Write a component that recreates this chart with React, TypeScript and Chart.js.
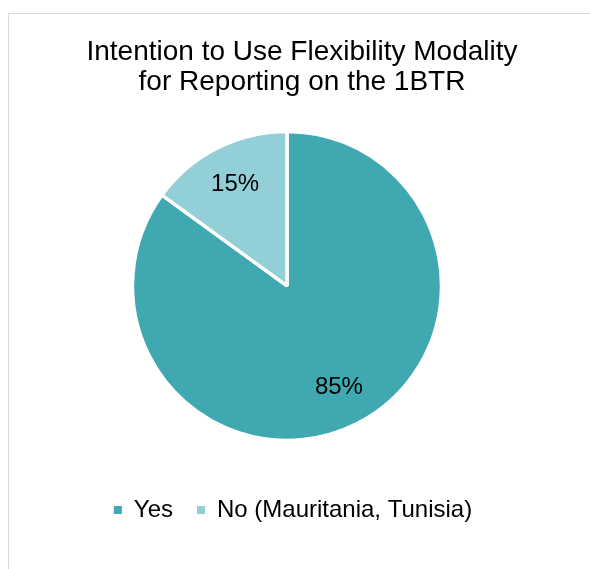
import React, { useEffect, useRef } from "react";
import { Chart, registerables, Plugin } from "chart.js";

Chart.register(...registerables);

const TITLE_LINES = ["Intention to Use Flexibility Modality", "for Reporting on the 1BTR"];
const CATEGORIES = ["Yes", "No (Mauritania, Tunisia)"];
const SHARES = [85, 15];
const COLORS = ["#3FA8B1", "#93CFD7"];

const FONT = "'Liberation Sans', Arial, sans-serif";

// Percent labels placed inside each slice along its middle angle
const sliceLabels: Plugin<"pie"> = {
  id: "sliceLabels",
  afterDatasetsDraw(chart) {
    const { ctx } = chart;
    const meta = chart.getDatasetMeta(0);
    const values = chart.data.datasets[0].data as number[];
    ctx.save();
    ctx.font = `24px ${FONT}`;
    ctx.fillStyle = "#000";
    ctx.textAlign = "center";
    ctx.textBaseline = "middle";
    meta.data.forEach((el, i) => {
      const { x, y, startAngle, endAngle, outerRadius } = (el as any).getProps(
        ["x", "y", "startAngle", "endAngle", "outerRadius"],
        true
      );
      const mid = (startAngle + endAngle) / 2;
      const r = outerRadius * 0.74;
      ctx.fillText(`${values[i]}%`, x + Math.cos(mid) * r, y + Math.sin(mid) * r);
    });
    ctx.restore();
  },
};

// Title and legend sit slightly right of the pie's centre line
const boxShift: Plugin<"pie"> = {
  id: "boxShift",
  afterLayout(chart: any) {
    const t = chart.titleBlock;
    if (t) {
      t.left += 15;
      t.right += 15;
    }
    const l = chart.legend;
    if (l) {
      l.left += 6;
      l.right += 6;
    }
  },
};

export default function App() {
  const canvasRef = useRef<HTMLCanvasElement>(null);

  useEffect(() => {
    if (!canvasRef.current) return;
    const defaultLabels = (Chart.overrides as any).pie.plugins.legend.labels.generateLabels;
    const chart = new Chart(canvasRef.current, {
      type: "pie",
      data: {
        labels: CATEGORIES,
        datasets: [
          {
            data: SHARES,
            backgroundColor: COLORS,
            borderColor: "#ffffff",
            borderWidth: 3.5,
          },
        ],
      },
      options: {
        responsive: false,
        devicePixelRatio: 1,
        animation: false,
        radius: 154.5,
        layout: { padding: { left: 0, right: 16, top: 0, bottom: 37 } },
        plugins: {
          title: {
            display: true,
            text: TITLE_LINES,
            color: "#000",
            font: { family: FONT, size: 28, weight: "normal", lineHeight: "30px" },
            padding: { top: 37.5, bottom: 0.3 },
          },
          legend: {
            display: true,
            position: "bottom",
            labels: {
              color: "#000",
              font: { family: FONT, size: 24 },
              boxWidth: 8,
              boxHeight: 8,
              padding: 24,
              generateLabels: (c: any) =>
                defaultLabels(c).map((item: any) => ({
                  ...item,
                  lineWidth: 0,
                  strokeStyle: "rgba(0,0,0,0)",
                })),
            },
          },
          tooltip: { enabled: false },
        },
      } as any,
      plugins: [sliceLabels, boxShift],
    });
    return () => chart.destroy();
  }, []);

  return (
    <div style={{ position: "fixed", inset: 0, overflow: "hidden", background: "#fff" }}>
      <div
        style={{
          position: "absolute",
          left: 8,
          top: 13,
          width: 640,
          height: 640,
          borderTop: "1.5px solid #d9d9d9",
          borderLeft: "1.5px solid #d9d9d9",
        }}
      />
      <canvas
        ref={canvasRef}
        width={590}
        height={569}
        style={{ position: "absolute", left: 0, top: 0, width: 590, height: 569 }}
      />
    </div>
  );
}
